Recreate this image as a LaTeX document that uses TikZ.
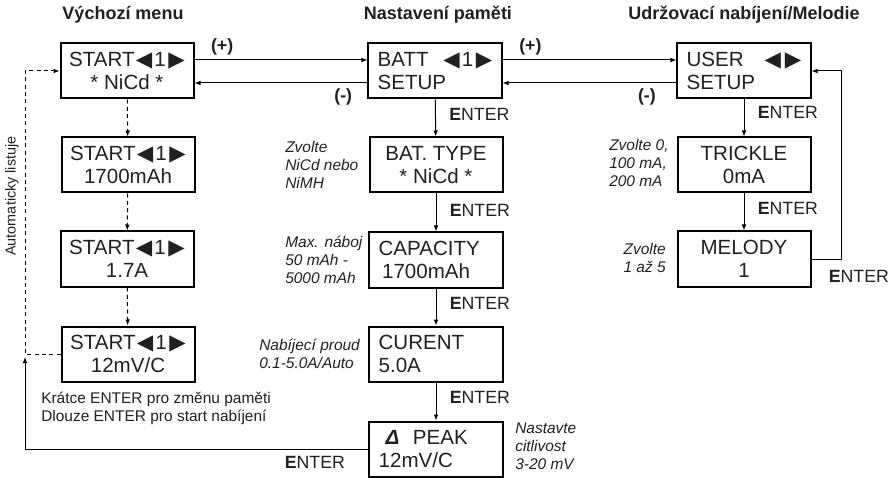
\documentclass[tikz,border=0pt]{standalone}
\usepackage{fontspec}
\setmainfont{Liberation Sans}
\newfontfamily\symfont{DejaVu Sans}
\usetikzlibrary{arrows.meta}
\definecolor{inkcol}{HTML}{231F20}
\newcommand\enterkey{\textbf{E}NTER}
\newcommand\tril{{\symfont\fontsize{16}{14}\selectfont ◀}}
\newcommand\trir{{\symfont\fontsize{16}{14}\selectfont ▶}}
\newcommand\memno{\tril\hspace{1.5pt}1\hspace{2pt}\trir}
\tikzset{
  dnode/.style={rectangle, draw=black, line width=1.5pt, minimum width=99.75pt, minimum height=41.25pt, inner sep=2pt, font=\fontsize{15.4}{17.5}\selectfont, align=center, text=inkcol},
  lnode/.style={dnode, align=left, text width=86pt, inner xsep=6.9pt},
  hnode/.style={font=\fontsize{13.5}{16}\selectfont\bfseries, text=inkcol},
  cnode/.style={font=\fontsize{11.6}{13.5}\selectfont\itshape, text=inkcol, inner sep=0pt},
  tnode/.style={font=\fontsize{11.6}{13.5}\selectfont, text=inkcol, inner sep=0pt, align=left},
  enode/.style={font=\fontsize{13.3}{16}\selectfont, text=inkcol, inner sep=0pt},
  arr/.style={->, line width=0.75pt},
  darr/.style={->, line width=0.75pt, dash pattern=on 3pt off 2.5pt},
}

\begin{document}
\begin{tikzpicture}[x=0.75pt, y=-0.75pt, >={Latex[length=4.5pt,width=3.5pt]}]
  \useasboundingbox (0,0) rectangle (894,478);
  % headings
  \node[hnode] (head1) at (123,15) {Výchozí menu};
  \node[hnode] (head2) at (438,15) {Nastavení paměti};
  \node[hnode] (head3) at (744,15) {Udržovací nabíjení/Melodie};
  % left column: start screens
  \node[dnode] (start1) at (127,71)  {START\hspace{1pt}\memno\\* NiCd *};
  \node[dnode] (start2) at (128,165) {START\hspace{1pt}\memno\\1700mAh};
  \node[dnode] (start3) at (127,259) {START\hspace{1pt}\memno\\1.7A};
  \node[dnode] (start4) at (128,354) {START\hspace{1pt}\memno\\12mV/C};
  % middle column: memory setup
  \node[lnode] (batt)     at (435,71)  {BATT\hfill\memno\\SETUP};
  \node[dnode] (battype)  at (436,165) {BAT. TYPE\\* NiCd *};
  \node[lnode] (capacity) at (436,260) {CAPACITY\\\,1700mAh};
  \node[lnode] (curent)   at (436,354) {CURENT\\5.0A};
  \node[lnode] (peak)     at (436,449) {\ {\bfseries\itshape Δ}\ \ PEAK\\12mV/C};
  % right column: user setup
  \node[lnode] (user)    at (744,71)  {USER\hfill\tril\hspace{3pt}\trir\\SETUP};
  \node[dnode] (trickle) at (744,165) {TRICKLE\\0mA};
  \node[dnode] (melody)  at (744,259) {MELODY\\1};
  % notes
  \node[cnode, anchor=west, align=left] (note1) at (285,165) {Zvolte\\NiCd nebo\\NiMH};
  \node[cnode, anchor=west, align=left] (note2) at (285,260) {Max. náboj\\50 mAh -\\5000 mAh};
  \node[cnode, anchor=west, align=left] (note3) at (259,354) {Nabíjecí proud\\0.1-5.0A/Auto};
  \node[cnode, anchor=west, align=left] (note4) at (515,446) {Nastavte\\citlivost\\3-20 mV};
  \node[cnode, anchor=west, align=left] (note5) at (609,163) {Zvolte 0,\\100 mA,\\200 mA};
  \node[cnode, anchor=east, align=right] (note6) at (666,258) {Zvolte\\1 až 5};
  \node[tnode, anchor=west] (hint) at (41,408) {Krátce ENTER pro změnu paměti\\Dlouze ENTER pro start nabíjení};
  \node[tnode, rotate=90, font=\fontsize{10.8}{13}\selectfont] (auto) at (12,196) {Automaticky listuje};
  % plus / minus between columns
  \draw[arr] ([yshift=8.25pt]start1.east) -- node[enode, above=3pt, pos=0.16] {\textbf{(+)}} ([yshift=8.25pt]batt.west);
  \draw[arr] ([yshift=-9pt]batt.west) -- node[enode, below=4pt, pos=0.14] {\textbf{(-)}} ([yshift=-9pt]start1.east);
  \draw[arr] ([yshift=8.25pt]batt.east) -- node[enode, above=3pt, pos=0.16] {\textbf{(+)}} ([yshift=8.25pt]user.west);
  \draw[arr] ([yshift=-9pt]user.west) -- node[enode, below=4pt, pos=0.17] {\textbf{(-)}} ([yshift=-9pt]batt.east);
  % enter steps
  \draw[arr] (batt) -- node[enode, right=10pt, pos=0.4] {\enterkey} (battype);
  \draw[arr] (battype) -- node[enode, right=10pt, pos=0.45] {\enterkey} (capacity);
  \draw[arr] (capacity) -- node[enode, right=10pt, pos=0.4] {\enterkey} (curent);
  \draw[arr] (curent) -- node[enode, right=10pt, pos=0.4] {\enterkey} (peak);
  \draw[arr] (user) -- node[enode, right=10pt, pos=0.35] {\enterkey} (trickle);
  \draw[arr] (trickle) -- node[enode, right=10pt, pos=0.4] {\enterkey} (melody);
  \draw[arr] (melody.east) -- ++(30,0) node[enode, below=8pt, xshift=13pt] {\enterkey} |- (user.east);
  % auto scrolling
  \draw[darr] (start1) -- (start2);
  \draw[darr] (start2) -- (start3);
  \draw[darr] (start3) -- (start4);
  \coordinate (loopc) at (25,355);
  \draw[darr] (start4.west) -- (start4.west -| loopc) |- (start1.west);
  \draw[arr] (peak.west) -- node[enode, below=5pt, pos=0.156] {\enterkey} (peak.west -| loopc) -- ([yshift=-1.5pt]loopc);
\end{tikzpicture}
\end{document}
